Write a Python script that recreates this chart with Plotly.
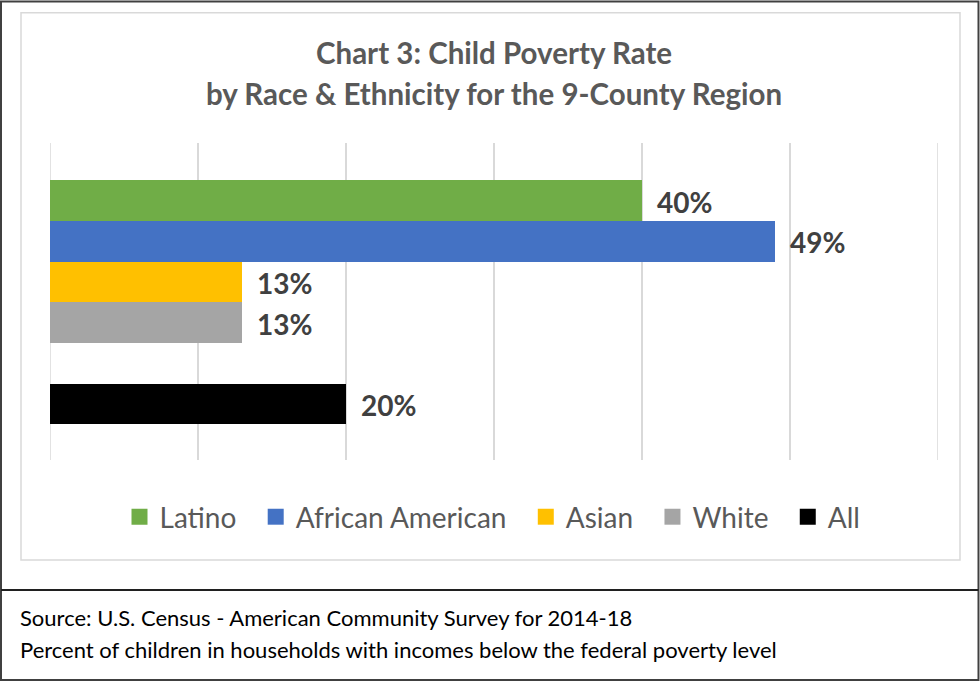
import plotly.graph_objects as go

# ---- data ----
categories = ["Latino", "African American", "Asian", "White", "All"]
values = [40, 49, 13, 13, 20]          # child poverty rate, %
colors = ["#70AD47", "#4472C4", "#FFC000", "#A5A5A5", "#000000"]
axis_order = ["Latino", "African American", "Asian", "White", " ", "All"]
x_ticks = [0, 10, 20, 30, 40, 50, 60]

title_lines = ["Chart 3: Child Poverty Rate",
               "by Race & Ethnicity for the 9-County Region"]
source_lines = ["Source: U.S. Census - American Community Survey for 2014-18",
                "Percent of children in households with incomes below the federal poverty level"]

W, H = 980, 681
L, R, T, B = 50, 42, 143, 221
PW, PH = W - L - R, H - T - B


def px(x):
    return (x - L) / PW


def py(y):
    return (H - B - y) / PH


FONT = "Lato, 'Open Sans', sans-serif"
GRID = "#D9D9D9"

fig = go.Figure()
for cat, val, col in zip(categories, values, colors):
    fig.add_trace(go.Bar(
        y=[cat], x=[val], orientation="h", marker_color=col,
        marker_line_width=0, width=1, showlegend=False, name=cat,
        hoverinfo="skip"))
# legend entries (square swatches)
for cat, col in zip(categories, colors):
    fig.add_trace(go.Scatter(
        x=[None], y=[None], mode="markers", name=cat + "\u00a0\u00a0",
        marker=dict(symbol="square", size=16, color=col), showlegend=True))

annotations = []
for cat, val in zip(categories, values):
    annotations.append(dict(
        x=val, y=cat, xref="x", yref="y", text=f"{val}%", showarrow=False,
        xanchor="left", yanchor="middle", xshift=13, yshift=-1,
        font=dict(family=FONT, size=28, color="#404040", weight="bold")))

for line, ypx in zip(title_lines, [52, 93]):
    annotations.append(dict(
        x=0.5, y=py(ypx), xref="paper", yref="paper", text=f"<b>{line}</b>",
        showarrow=False, xanchor="center", yanchor="middle",
        font=dict(family=FONT, size=29.5, color="#595959")))

for line, ypx in zip(source_lines, [617, 649]):
    annotations.append(dict(
        x=px(18), y=py(ypx), xref="paper", yref="paper", text=line,
        showarrow=False, xanchor="left", yanchor="middle",
        font=dict(family=FONT, size=22, color="#000000")))

shapes = [
    dict(type="rect", xref="paper", yref="paper",
         x0=px(21), x1=px(960), y0=py(560), y1=py(12.7),
         line=dict(color=GRID, width=1.5), layer="below"),
    dict(type="rect", xref="paper", yref="paper",
         x0=px(1), x1=px(978.5), y0=py(680), y1=py(1.5),
         line=dict(color="#404040", width=2)),
    dict(type="line", xref="paper", yref="paper",
         x0=px(1), x1=px(978.5), y0=py(590), y1=py(590),
         line=dict(color="#202020", width=2)),
]
# gridlines at the axis edges (plotly omits them)
for xv in (x_ticks[0], x_ticks[-1]):
    shapes.append(dict(type="line", xref="x", yref="paper", x0=xv, x1=xv,
                       y0=0, y1=1, line=dict(color=GRID, width=1.5),
                       layer="below"))

fig.update_layout(
    width=W, height=H,
    margin=dict(l=L, r=R, t=T, b=B),
    paper_bgcolor="white", plot_bgcolor="white",
    barmode="overlay", bargap=0,
    font=dict(family=FONT),
    xaxis=dict(range=[x_ticks[0], x_ticks[-1]], tickvals=x_ticks,
               showticklabels=False, showgrid=True, gridcolor=GRID,
               gridwidth=1.5, zeroline=False, showline=False, fixedrange=True),
    yaxis=dict(type="category", categoryorder="array", categoryarray=axis_order,
               range=[6.376, -1.413], showticklabels=False, showgrid=False,
               zeroline=False, showline=False, fixedrange=True),
    legend=dict(orientation="h", x=px(499.5), xanchor="center",
                y=py(517), yanchor="middle",
                font=dict(family=FONT, size=28, color="#595959"),
                itemclick=False, itemdoubleclick=False),
    annotations=annotations, shapes=shapes,
    showlegend=True,
)

fig.write_html("out.html")
